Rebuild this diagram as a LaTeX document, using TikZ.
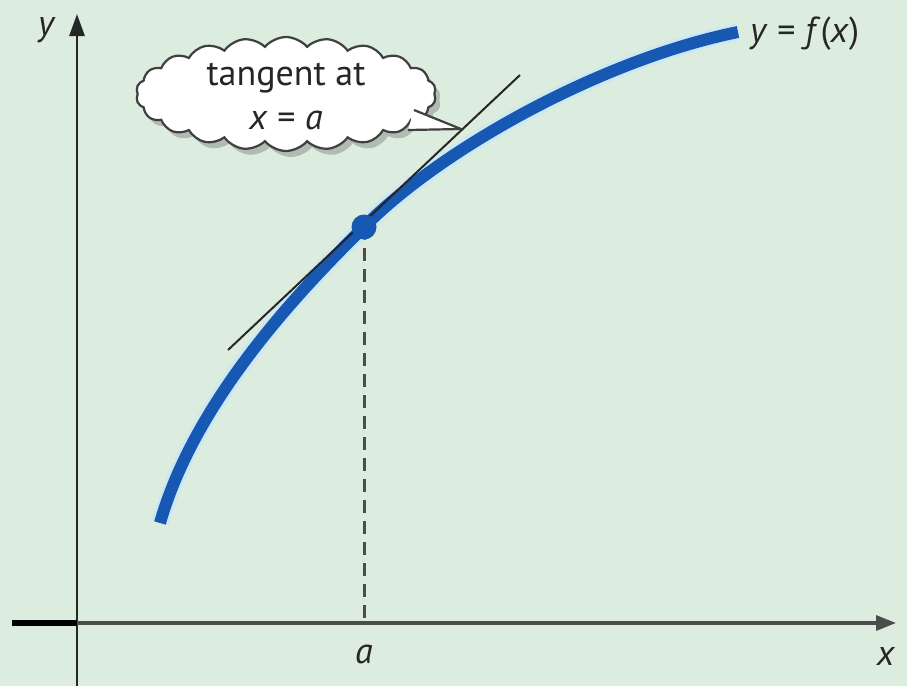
\documentclass[tikz,border=0pt]{standalone}
\usepackage{fontspec}
\setmainfont{PT Sans}
\usetikzlibrary{shapes.symbols,shadows,arrows.meta}
\definecolor{bg}{RGB}{220,236,222}
\definecolor{curveblue}{RGB}{22,88,178}
\definecolor{halo}{RGB}{205,232,245}
\begin{document}
\begin{tikzpicture}[x=1pt,y=-1pt,
  lbl/.style={font=\fontsize{36}{44}\selectfont, text=black!85, inner sep=0pt},
  axisline/.style={line width=2.8pt, draw=black!85},
  fcurve/.style={line width=12pt, draw=curveblue},
  fhalo/.style={line width=18pt, draw=halo, opacity=0.9},
  tanline/.style={line width=2pt, draw=black!85},
  dropline/.style={line width=3pt, draw=black!70, dash pattern=on 13pt off 8pt},
  callout/.style={cloud, cloud puffs=22, cloud puff arc=100, cloud ignores aspect,
    draw=black!75, fill=white, line width=2.2pt, minimum width=300pt, minimum height=114pt,
    inner sep=0pt, drop shadow={shadow xshift=5pt,shadow yshift=-6pt,opacity=0.3,fill=black!70}}
]
\fill[bg] (0,0) rectangle (907,686);
\useasboundingbox (0,0) rectangle (907,686);

% coordinates
\coordinate (ybot) at (77,686);
\coordinate (ytop) at (77,14);
\coordinate (xleft) at (12,623);
\coordinate (O) at (77,623);
\coordinate (xright) at (896,623);
\coordinate (A) at (364,227);
\coordinate (Abase) at (364,623);
\coordinate (C0) at (160,523);
\coordinate (C1) at (738,32);
\coordinate (T0) at (228,350);
\coordinate (T1) at (520,75);

% axes
\draw[axisline, -{Triangle[length=22pt,width=15pt]}] (ybot) -- (ytop);
\draw[line width=3.2pt, draw=black!70, -{Triangle[length=20pt,width=15pt]}] (O) -- (xright);
\draw[line width=5.5pt, draw=black] (xleft) -- (O);

% dashed drop line
\draw[dropline] (A) -- (Abase);

% curve
\draw[fhalo] (C0) .. controls (195,400) and (300,290) .. (A)
  .. controls (440,150) and (600,60) .. (C1);
\draw[fcurve] (C0) .. controls (195,400) and (300,290) .. (A)
  .. controls (440,150) and (600,60) .. (C1);

% tangent
\draw[tanline] (T0) -- (T1);

% point
\fill[curveblue] (A) circle (12.5pt);

% cloud callout
\node[callout] (cl) at (286,94) {};
\coordinate (p1) at (414,110);
\coordinate (tip) at (461,129);
\coordinate (p2) at (408,130);
\fill[white] (p1) -- (tip) -- (p2) -- cycle;
\draw[line width=2.2pt, draw=black!75, line join=round] (p1) -- (tip) -- (p2);
\node[lbl, align=center] (ct) at (286,97) {tangent at\\\textit{x} = \textit{a}};

% labels
\node[lbl] (ylab) at (47,30) {\textit{y}};
\node[lbl] (xlab) at (886,656) {\textit{x}};
\node[lbl] (alab) at (364,654) {\textit{a}};
\node[lbl, anchor=west] (flab) at (750,34) {\textit{y} = \textit{f}(\textit{x})};
\end{tikzpicture}
\end{document}
